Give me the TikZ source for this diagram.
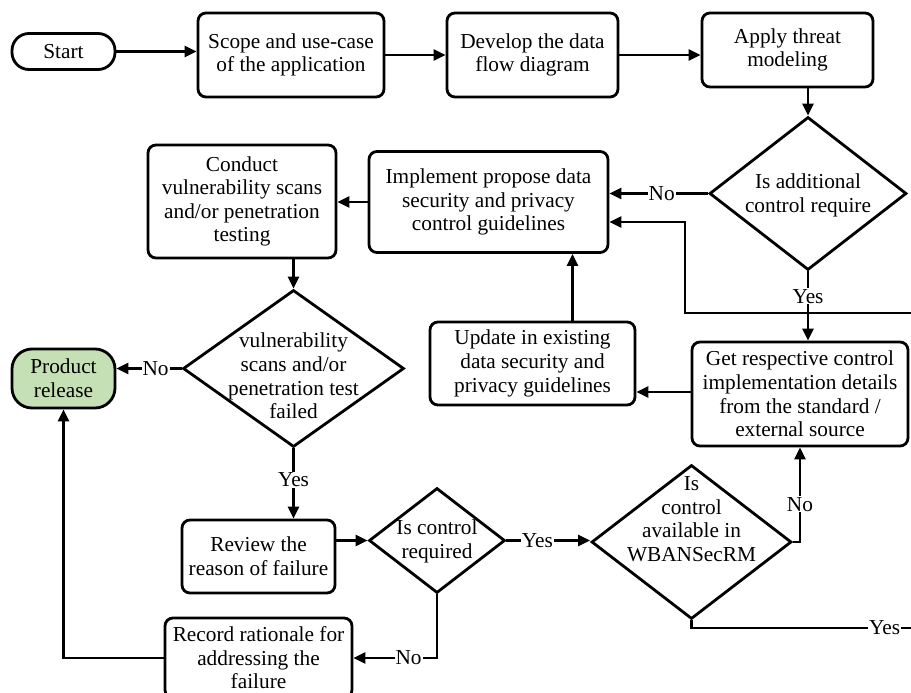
\documentclass[tikz,border=0pt]{standalone}
\usepackage{fontspec}
\setmainfont{Liberation Serif}
\usetikzlibrary{shapes.geometric,arrows.meta}
\definecolor{releasegreen}{RGB}{197,224,180}
\begin{document}
\begin{tikzpicture}[x=1pt,y=1pt,
  every node/.style={font=\fontsize{21.3}{23.6}\selectfont, align=center},
  box/.style={draw, line width=2.8pt, rounded corners=8pt, inner sep=0pt},
  term/.style={draw, line width=2.8pt, rounded corners=17pt, inner sep=0pt},
  decision/.style={draw, diamond, line width=2.8pt, inner sep=0pt},
  flow/.style={line width=2.8pt, -{Triangle[length=12pt,width=11pt]}},
  plain/.style={line width=2.8pt},
  lbl/.style={fill=white, inner sep=1pt}]
\clip (0,0) rectangle (911,-693);
\fill[white] (0,0) rectangle (911,-693);

% process steps
\node[term, minimum width=103pt, minimum height=36pt] (start) at (63.5,-51.5) {Start};
\node[box, minimum width=186pt, minimum height=84pt] (scope) at (291,-55) {Scope and use-case\\of the application};
\node[box, minimum width=171pt, minimum height=84pt] (develop) at (532.5,-55) {Develop the data\\flow diagram};
\node[box, minimum width=171pt, minimum height=74pt] (apply) at (787.5,-50) {Apply threat\\modeling};
\node[box, minimum width=239pt, minimum height=101pt] (implement) at (488.5,-202) {Implement propose data\\security and privacy\\control guidelines};
\node[box, minimum width=188pt, minimum height=113pt] (conduct) at (242,-201.5) {Conduct\\vulnerability scans\\and/or penetration\\testing};
\node[box, minimum width=205pt, minimum height=83pt] (update) at (532.5,-363.5) {Update in existing\\data security and\\privacy guidelines};
\node[box, minimum width=216pt, minimum height=104pt] (get) at (800,-394) {Get respective control\\implementation details\\from the standard /\\external source};
\node[term, fill=releasegreen, rounded corners=20pt, minimum width=103pt, minimum height=59pt] (release) at (63.5,-378.5) {Product\\release};
\node[box, minimum width=153pt, minimum height=73pt] (review) at (258.5,-556.5) {Review the\\reason of failure};
\node[box, minimum width=187pt, minimum height=80pt] (record) at (258.5,-658) {Record rationale for\\addressing the\\failure};

% decisions: outline first, wording placed on top
\node[decision, minimum width=197pt, minimum height=153pt] (addctl) at (808,-193.5) {};
\node (addctlT) at (808,-195.5) {Is additional\\control require};
\node[decision, minimum width=221pt, minimum height=157pt] (vuln) at (293.5,-368.5) {};
\node (vulnT) at (293.5,-376) {vulnerability\\scans and/or\\penetration test\\failed};
\node[decision, minimum width=136pt, minimum height=105pt] (isreq) at (437,-540.5) {};
\node (isreqT) at (437,-541.5) {Is control\\required};
\node[decision, minimum width=200pt, minimum height=154pt] (wban) at (691.5,-542) {};
\node (wbanT) at (691.5,-519) {Is\\control\\available in\\WBANSecRM};

% loose ends leaving the sheet on the right
\coordinate (loopin) at (911,-313);
\coordinate (yesout) at (911,-628);

% connectors
\draw[flow] (start.east) -- (start.east -| scope.west);
\draw[flow] (scope.east) -- (develop.west);
\draw[flow] (develop.east) -- (develop.east -| apply.west);
\draw[flow] (apply.south -| addctl.north) -- (addctl.north);
\draw[flow] (addctl.west) -- node[lbl, pos=0.47]{No} (addctl.west -| implement.east);
\draw[flow] (addctl.south) -- node[lbl, pos=0.36]{Yes} (get.north -| addctl.south);
\draw[flow] (loopin) -- ++(-226,0) |- ([yshift=-20pt]implement.east);
\draw[flow] (implement.west) -- (implement.west -| conduct.east);
\draw[flow] (conduct.south -| vuln.north) -- (vuln.north);
\draw[flow] (vuln.west) -- node[lbl, pos=0.4]{No} (vuln.west -| release.east);
\draw[flow] (vuln.south) -- node[lbl, pos=0.45]{Yes} (vuln.south |- review.north);
\draw[flow] (review.east |- isreq.west) -- (isreq.west);
\draw[flow] (isreq.east) -- node[lbl, pos=0.37]{Yes} (isreq.east -| wban.west);
\draw[flow] (isreq.south) |- node[lbl, pos=0.67]{No} (record.east);
\draw[flow] (record.west) -| (release.south);
\draw[flow] ([xshift=40pt]update.north) -- ([xshift=40pt]update.north |- implement.south);
\draw[flow] (get.west |- 0,-392) -- (update.east |- 0,-392);
\draw[flow] (wban.east) -| node[lbl, pos=0.7]{No} (get.south);
\draw[plain] (wban.south) |- node[lbl, pos=0.94]{Yes} (yesout);
\end{tikzpicture}
\end{document}
